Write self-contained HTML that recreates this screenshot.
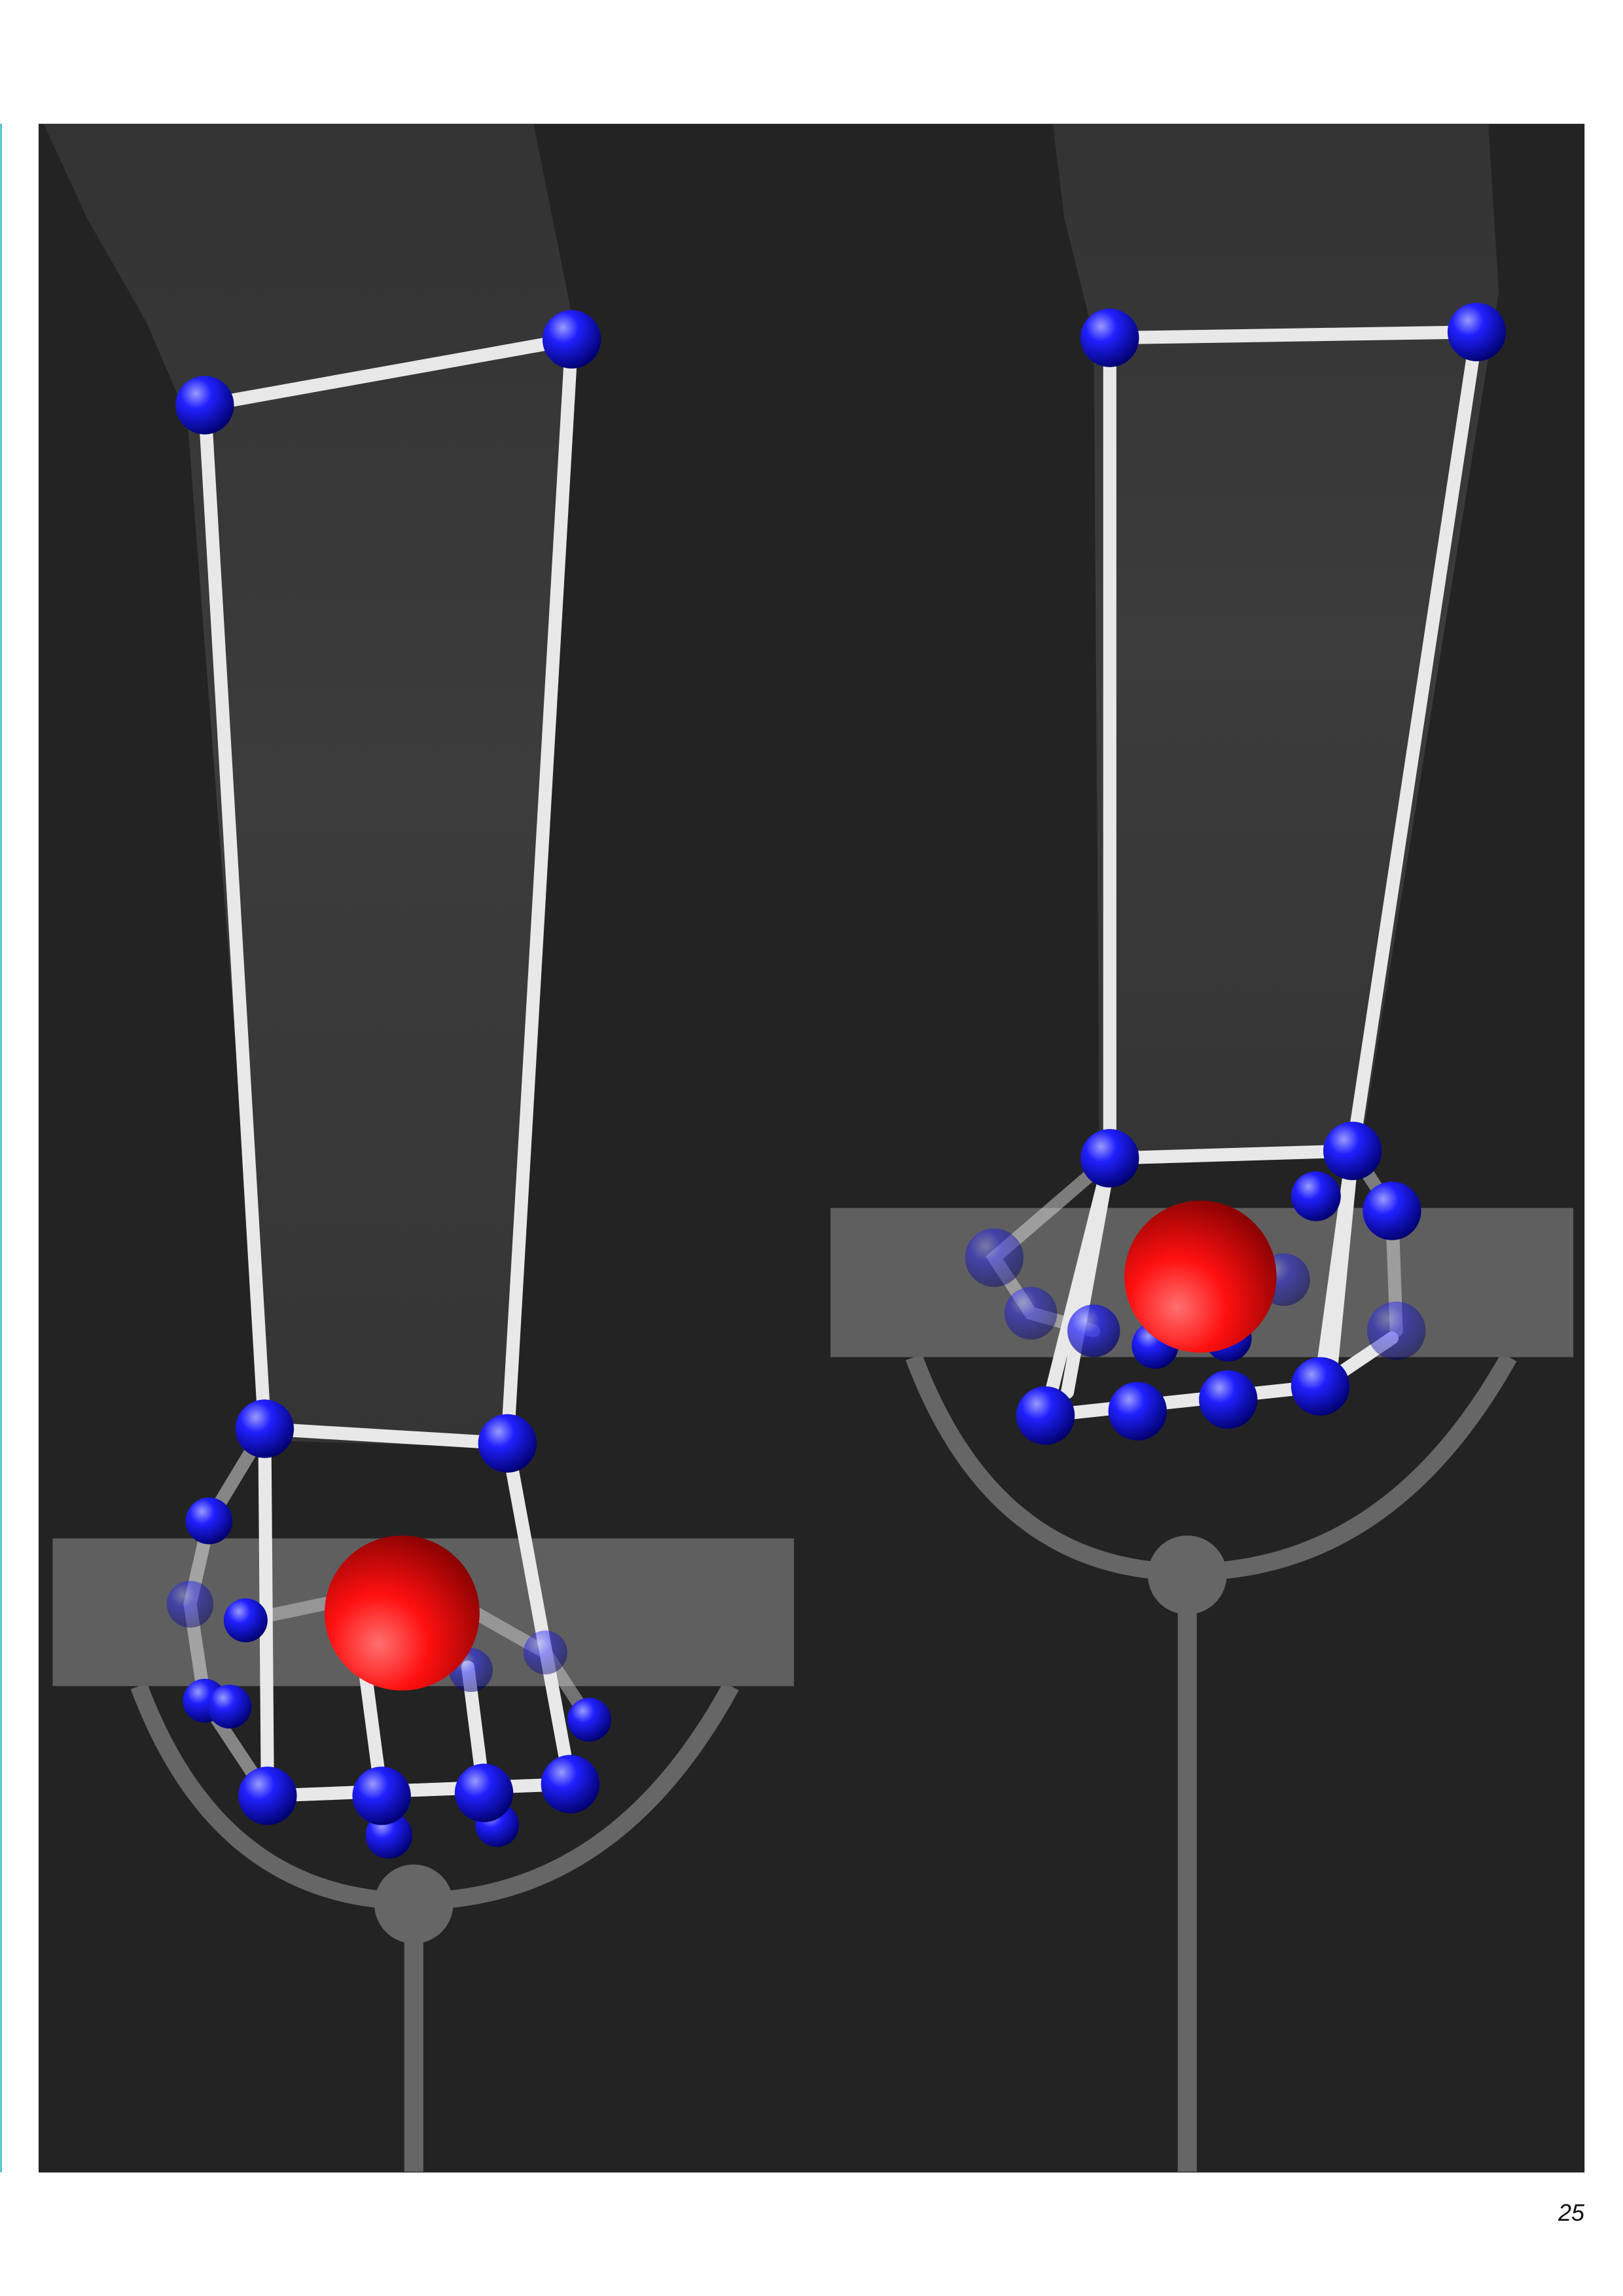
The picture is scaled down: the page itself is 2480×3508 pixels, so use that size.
<!DOCTYPE html>
<html><head><meta charset="utf-8"><style>
html,body{margin:0;padding:0;background:#fff}
body{width:2480px;height:3508px;position:relative;overflow:hidden}
#pn{position:absolute;left:2330px;top:3360px;width:91px;text-align:right;font:italic 36px "Liberation Sans",sans-serif;color:#111}
</style></head><body>
<div style="position:absolute;left:0;top:189px;width:3px;height:3130px;background:#5cc9c9"></div>
<svg width="2480" height="3508" viewBox="0 0 1110 1570" style="position:absolute;left:0;top:0">
<defs>
<radialGradient id="bl" cx="0.35" cy="0.3" r="0.75"><stop offset="0" stop-color="#9a9aff"/><stop offset="0.35" stop-color="#2020ff"/><stop offset="1" stop-color="#00006a"/></radialGradient>
<radialGradient id="rd" cx="0.35" cy="0.7" r="0.8"><stop offset="0" stop-color="#ff7070"/><stop offset="0.4" stop-color="#ff1010"/><stop offset="1" stop-color="#7a0000"/></radialGradient>
<linearGradient id="arm" x1="0" y1="0" x2="0" y2="1"><stop offset="0" stop-color="#333"/><stop offset="0.5" stop-color="#3c3c3c"/><stop offset="1" stop-color="#353535"/></linearGradient>
</defs>
<rect x="26.4" y="84.6" width="1057.3" height="1401" fill="#232323"/>
<!-- left arm -->
<polygon points="30,85 365,85 392,220 350,990 182,985 128,285 100,220 60,150" fill="url(#arm)"/>
<polygon points="720,85 1018,85 1025,200 930,790 752,795 748,230 728,150" fill="url(#arm)"/>
<g fill="none" stroke="#666">
<path d="M95,1153 Q150,1300 283,1300 Q420,1300 500,1153" stroke-width="12"/>
<line x1="283" y1="1300" x2="283" y2="1485" stroke-width="13"/>
</g>
<circle cx="283" cy="1302" r="27" fill="#666"/>
<g fill="none" stroke="#666">
<path d="M625,928 Q680,1075 812,1075 Q950,1075 1032,928" stroke-width="12"/>
<line x1="812" y1="1077" x2="812" y2="1485" stroke-width="13"/>
</g>
<circle cx="812" cy="1077" r="27" fill="#666"/>
<rect x="36" y="1052" width="507" height="101" fill="#5f5f5f"/>
<rect x="568" y="826" width="508" height="102" fill="#5f5f5f"/>
<g stroke="#e8e8e8" stroke-width="9" stroke-linecap="round" fill="none">
<path d="M140,277 L391,232 L347,987 L181,977 Z"/>
<path d="M181,977 L183,1228 L390,1220 L347,987"/>
<path d="M261,1228 L250,1145 M331,1226 L320,1140" />
<path d="M181,977 L143,1040 L130,1097 L140,1163 L183,1228" stroke-opacity="0.5"/>
<path d="M168,1108 L230,1095 M320,1100 L373,1130 L403,1176" stroke-opacity="0.4"/>
</g>
<g stroke="#e8e8e8" stroke-width="9" stroke-linecap="round" fill="none">
<path d="M759,231 L1010,227 L925,787 L759,792 Z"/>
<path d="M759,792 L715,968 M759,792 L730,952 M925,787 L903,948 M925,787 L910,940 M715,968 L903,948 L952,915"/>
<path d="M759,792 L680,860 L705,898 L748,910 M925,787 L952,828 L955,910" stroke-opacity="0.45"/>
</g>
<g fill="url(#bl)">
<circle cx="130" cy="1097" r="16" opacity="0.45"/><circle cx="373" cy="1130" r="15" opacity="0.45"/><circle cx="322" cy="1142" r="15" opacity="0.5"/>
<circle cx="140" cy="277" r="20"/><circle cx="391" cy="232" r="20"/><circle cx="181" cy="977" r="20"/><circle cx="347" cy="987" r="20"/>
<circle cx="143" cy="1040" r="16"/><circle cx="168" cy="1108" r="15"/><circle cx="140" cy="1163" r="15"/><circle cx="157" cy="1167" r="15"/>
<circle cx="266" cy="1255" r="16"/><circle cx="340" cy="1248" r="15"/><circle cx="403" cy="1176" r="15"/>
<circle cx="183" cy="1228" r="20"/><circle cx="261" cy="1228" r="20"/><circle cx="331" cy="1226" r="20"/><circle cx="390" cy="1220" r="20"/>
</g>
<circle cx="275" cy="1103" r="53" fill="url(#rd)"/>
<g fill="url(#bl)">
<circle cx="680" cy="860" r="20" opacity="0.45"/><circle cx="705" cy="898" r="18" opacity="0.45"/><circle cx="955" cy="910" r="20" opacity="0.45"/><circle cx="878" cy="875" r="18" opacity="0.45"/>
<circle cx="748" cy="910" r="18" opacity="0.7"/><circle cx="790" cy="920" r="16"/><circle cx="840" cy="915" r="16"/>
<circle cx="900" cy="818" r="17"/><circle cx="952" cy="828" r="20"/>
<circle cx="759" cy="231" r="20"/><circle cx="1010" cy="227" r="20"/><circle cx="759" cy="792" r="20"/><circle cx="925" cy="787" r="20"/>
<circle cx="715" cy="968" r="20"/><circle cx="778" cy="965" r="20"/><circle cx="840" cy="957" r="20"/><circle cx="903" cy="948" r="20"/>
</g>
<circle cx="821" cy="873" r="52" fill="url(#rd)"/>
</svg>
<div id="pn">25</div>
</body></html>
